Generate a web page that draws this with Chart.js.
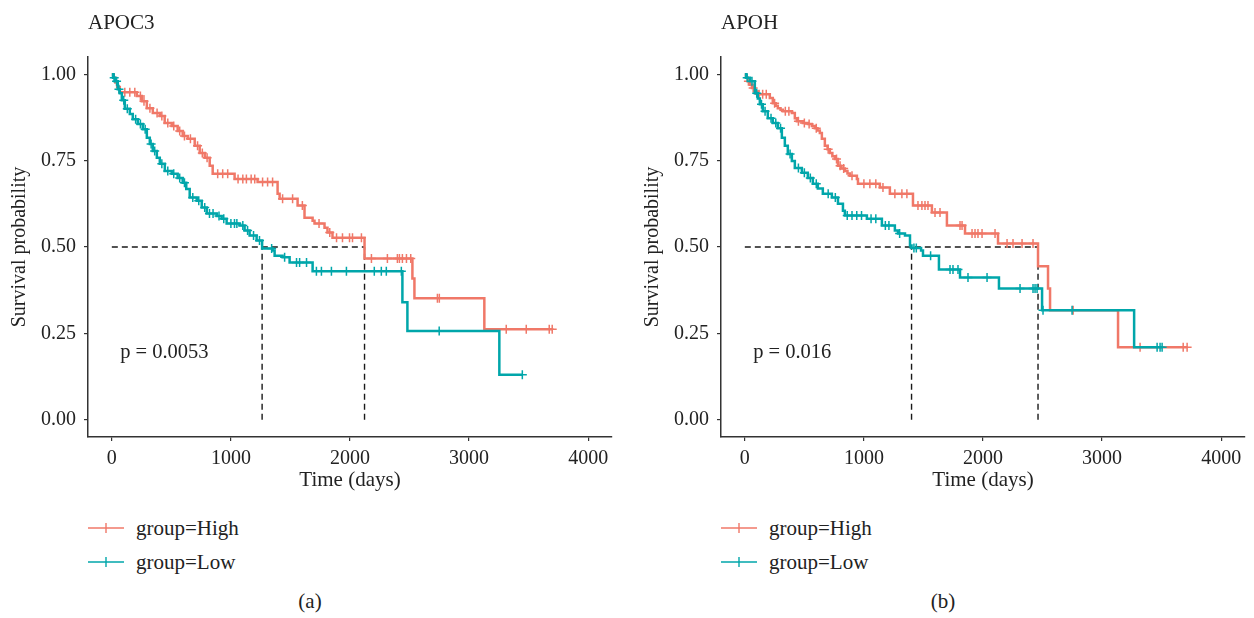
<!DOCTYPE html>
<html>
<head>
<meta charset="utf-8">
<script src="https://cdn.jsdelivr.net/npm/chart.js@4.4.1/dist/chart.umd.min.js"></script>
<style>
  body { margin: 0; width: 1254px; height: 618px; background: #fff; position: relative; overflow: hidden;
         font-family: "Liberation Serif", serif; color: #222; }
  .panel { position: absolute; top: 0; width: 621px; height: 618px; }
  .panel canvas { position: absolute; left: 0; top: 0; }
  .legend { position: absolute; left: 88px; top: 511px; font-size: 21px; }
  .item { height: 34px; display: flex; align-items: center; }
  .item svg { margin-right: 12px; }
  .cap { position: absolute; left: 0; width: 620px; top: 589px; text-align: center; font-size: 21px; line-height: 24px; }
</style>
</head>
<body>
<div class="panel" style="left:0">
  <canvas id="apoc3" width="621" height="500"></canvas>
  <div class="legend" id="leg-apoc3"></div>
  <div class="cap">(a)</div>
</div>
<div class="panel" style="left:633px">
  <canvas id="apoh" width="621" height="500"></canvas>
  <div class="legend" id="leg-apoh"></div>
  <div class="cap">(b)</div>
</div>
<script>
// axis ticks
const timeTicks = [0, 1000, 2000, 3000, 4000];
const survTicks = [0, 0.25, 0.5, 0.75, 1];
const groups = ['group=High', 'group=Low'];

// APOC3 - event times (days) and survival after each drop, plus censor times
const apoc3HighTime = [15, 30, 45, 67, 210, 252, 294, 344, 403, 444, 503, 553, 595, 637, 696, 738, 780, 822, 847,
  1031, 1224, 1392, 1409, 1560, 1618, 1686, 1702, 1786, 1811, 1853, 2122, 2524, 2541, 3128];
const apoc3HighSurv = [0.99, 0.976, 0.963, 0.948, 0.937, 0.922, 0.902, 0.888, 0.879, 0.859, 0.85, 0.836, 0.821, 0.813,
  0.793, 0.772, 0.758, 0.735, 0.712, 0.697, 0.688, 0.654, 0.64, 0.62, 0.585, 0.576, 0.568, 0.556, 0.542, 0.527,
  0.467, 0.409, 0.352, 0.262];
const apoc3HighCensor = [109, 151, 193, 240, 270, 320, 380, 420, 470, 520, 570, 610, 660, 720, 760, 800, 889, 931, 973,
  1060, 1100, 1130, 1170, 1200, 1266, 1308, 1350, 1434, 1518, 1600, 1740, 1830, 1887, 1937, 1996, 2021, 2096, 2180,
  2314, 2398, 2415, 2440, 2474, 2510, 2734, 2750, 3312, 3480, 3673, 3698];

const apoc3LowTime = [10, 25, 50, 67, 84, 109, 151, 176, 218, 260, 294, 319, 344, 378, 403, 445, 503, 553, 595, 625,
  654, 713, 755, 797, 881, 922, 964, 1073, 1115, 1157, 1216, 1262, 1350, 1367, 1434, 1493, 1686, 2440, 2482, 3254];
const apoc3LowSurv = [0.99, 0.98, 0.957, 0.945, 0.925, 0.9, 0.885, 0.87, 0.856, 0.841, 0.816, 0.798, 0.778, 0.758,
  0.741, 0.72, 0.712, 0.7, 0.686, 0.668, 0.643, 0.634, 0.614, 0.597, 0.59, 0.582, 0.568, 0.562, 0.548, 0.533, 0.519,
  0.496, 0.49, 0.475, 0.47, 0.455, 0.43, 0.34, 0.257, 0.13];
const apoc3LowCensor = [20, 40, 60, 100, 130, 200, 240, 280, 330, 360, 420, 470, 520, 570, 610, 680, 730, 780, 820,
  850, 900, 940, 1000, 1030, 1050, 1100, 1140, 1190, 1240, 1342, 1451, 1551, 1577, 1635, 1718, 1760, 1844, 1970,
  2204, 2263, 2305, 2431, 2749, 3447];

// APOH
const apohHighTime = [10, 25, 42, 60, 84, 109, 210, 235, 260, 277, 300, 319, 395, 420, 437, 487, 530, 563, 588, 610,
  630, 647, 672, 695, 714, 735, 756, 782, 810, 840, 862, 882, 941, 950, 1134, 1218, 1412, 1571, 1697, 1849, 2126,
  2462, 2546, 2563, 3134];
const apohHighSurv = [0.99, 0.98, 0.97, 0.96, 0.95, 0.942, 0.931, 0.916, 0.909, 0.902, 0.897, 0.893, 0.888, 0.873,
  0.864, 0.859, 0.856, 0.85, 0.844, 0.837, 0.83, 0.813, 0.793, 0.783, 0.772, 0.763, 0.755, 0.735, 0.727, 0.72, 0.713,
  0.706, 0.697, 0.683, 0.672, 0.654, 0.62, 0.6, 0.562, 0.539, 0.51, 0.444, 0.38, 0.317, 0.21];
const apohHighCensor = [30, 70, 120, 150, 180, 250, 340, 370, 450, 500, 540, 600, 700, 770, 800, 830, 900, 1000, 1050,
  1100, 1160, 1260, 1319, 1361, 1454, 1487, 1513, 1538, 1597, 1639, 1807, 1824, 1908, 1933, 1958, 1992, 2101, 2202,
  2252, 2328, 2420, 2757, 3319, 3681, 3714];

const apohLowTime = [10, 42, 84, 109, 126, 151, 193, 235, 277, 311, 336, 361, 395, 420, 479, 529, 571, 613, 655, 731,
  782, 824, 840, 1025, 1151, 1260, 1286, 1345, 1387, 1400, 1480, 1496, 1630, 1807, 2134, 2496, 3269];
const apohLowSurv = [0.99, 0.98, 0.945, 0.93, 0.913, 0.893, 0.873, 0.859, 0.844, 0.816, 0.793, 0.769, 0.749, 0.729,
  0.715, 0.7, 0.683, 0.669, 0.654, 0.643, 0.625, 0.605, 0.591, 0.582, 0.562, 0.548, 0.539, 0.533, 0.504, 0.497, 0.49,
  0.475, 0.435, 0.412, 0.38, 0.317, 0.21];
const apohLowCensor = [20, 60, 100, 140, 170, 220, 260, 300, 380, 450, 500, 550, 600, 700, 760, 860, 900, 940, 980,
  1060, 1100, 1180, 1210, 1300, 1420, 1440, 1560, 1723, 1748, 1790, 1874, 2034, 2311, 2420, 2437, 2454, 2504, 2748,
  3462, 3487, 3504];

const RED = '#F07868';
const TEAL = '#00A6AA';
const INK = '#222';
const FONT = '"Liberation Serif", serif';

// survival at time t from the step function
function survAt(times, surv, t) {
  let s = 1;
  for (let i = 0; i < times.length; i++) if (times[i] <= t) s = surv[i];
  return s;
}

function curve(times, surv, censor) {
  const end = Math.max(...censor);
  const pts = [{x: 0, y: 1}];
  times.forEach((t, i) => pts.push({x: t, y: surv[i]}));
  pts.push({x: end, y: surv[surv.length - 1]});
  return pts;
}

function median(times, surv) {
  const i = surv.findIndex(s => s <= 0.5);
  return times[i];
}

const panelText = {
  id: 'panelText',
  afterDraw(chart, args, opts) {
    const {ctx, chartArea, scales} = chart;
    ctx.save();
    ctx.fillStyle = INK;
    ctx.textBaseline = 'alphabetic';
    ctx.textAlign = 'left';
    ctx.font = '21px ' + FONT;
    ctx.fillText(opts.title, chartArea.left, 29);
    ctx.font = '20.5px ' + FONT;
    ctx.fillText(opts.pval, scales.x.getPixelForValue(70), scales.y.getPixelForValue(0.2) + 7);
    ctx.restore();
  }
};

function makePanel(id, title, pval, high, low) {
  const mHigh = median(high.time, high.surv);
  const mLow = median(low.time, low.surv);
  const dash = {borderColor: '#1a1a1a', borderWidth: 1.4, borderDash: [6, 4], pointRadius: 0, fill: false};
  const lineOpts = {borderWidth: 2.5, pointRadius: 0, stepped: true, fill: false};
  const censOpts = {showLine: false, pointStyle: 'cross', pointRadius: 4.5, pointBorderWidth: 1.5};

  new Chart(document.getElementById(id), {
    type: 'line',
    data: {
      datasets: [
        {label: 'low censor', data: low.censor.map(t => ({x: t, y: survAt(low.time, low.surv, t)})),
          pointBorderColor: TEAL, borderColor: TEAL, ...censOpts},
        {label: 'low', data: curve(low.time, low.surv, low.censor), borderColor: TEAL, ...lineOpts},
        {label: 'high censor', data: high.censor.map(t => ({x: t, y: survAt(high.time, high.surv, t)})),
          pointBorderColor: RED, borderColor: RED, ...censOpts},
        {label: 'high', data: curve(high.time, high.surv, high.censor), borderColor: RED, ...lineOpts},
        {data: [{x: 0, y: 0.5}, {x: Math.max(mHigh, mLow), y: 0.5}], ...dash},
        {data: [{x: mLow, y: 0}, {x: mLow, y: 0.5}], ...dash},
        {data: [{x: mHigh, y: 0}, {x: mHigh, y: 0.5}], ...dash}
      ]
    },
    options: {
      responsive: false,
      animation: false,
      layout: {padding: {top: 57, right: 9, bottom: 0, left: 0}},
      plugins: {
        legend: {display: false},
        tooltip: {enabled: false},
        panelText: {title: title, pval: pval}
      },
      scales: {
        x: {
          type: 'linear', min: -200, max: 4200,
          afterBuildTicks: s => { s.ticks = timeTicks.map(v => ({value: v})); },
          afterFit: s => { s.height = 63; },
          ticks: {callback: v => String(v), color: INK, font: {family: FONT, size: 20}, padding: 6, maxRotation: 0},
          grid: {drawOnChartArea: false, drawTicks: true, tickLength: 4, color: '#333', lineWidth: 1.2},
          border: {display: true, color: '#333', width: 1.5},
          title: {display: true, text: 'Time (days)', color: INK, font: {family: FONT, size: 21},
            padding: {top: 0, bottom: 7}}
        },
        y: {
          type: 'linear', min: -0.05, max: 1.05,
          afterBuildTicks: s => { s.ticks = survTicks.map(v => ({value: v})); },
          afterFit: s => { s.width = 88; },
          ticks: {callback: v => v.toFixed(2), color: INK, font: {family: FONT, size: 20}, padding: 8},
          grid: {drawOnChartArea: false, drawTicks: true, tickLength: 4, color: '#333', lineWidth: 1.2},
          border: {display: true, color: '#333', width: 1.5},
          title: {display: true, text: 'Survival probability', color: INK, font: {family: FONT, size: 20},
            padding: {top: 8, bottom: 0}}
        }
      }
    },
    plugins: [panelText]
  });
}

function makeLegend(id) {
  const el = document.getElementById(id);
  [RED, TEAL].forEach((c, i) => {
    const row = document.createElement('div');
    row.className = 'item';
    row.innerHTML = '<svg width="36" height="14"><line x1="0" y1="7" x2="36" y2="7" stroke="' + c +
      '" stroke-width="1.6"/><line x1="18" y1="2" x2="18" y2="12" stroke="' + c + '" stroke-width="1.4"/></svg>' +
      '<span>' + groups[i] + '</span>';
    el.appendChild(row);
  });
}

makePanel('apoc3', 'APOC3', 'p = 0.0053',
  {time: apoc3HighTime, surv: apoc3HighSurv, censor: apoc3HighCensor},
  {time: apoc3LowTime, surv: apoc3LowSurv, censor: apoc3LowCensor});
makePanel('apoh', 'APOH', 'p = 0.016',
  {time: apohHighTime, surv: apohHighSurv, censor: apohHighCensor},
  {time: apohLowTime, surv: apohLowSurv, censor: apohLowCensor});
makeLegend('leg-apoc3');
makeLegend('leg-apoh');
</script>
</body>
</html>
